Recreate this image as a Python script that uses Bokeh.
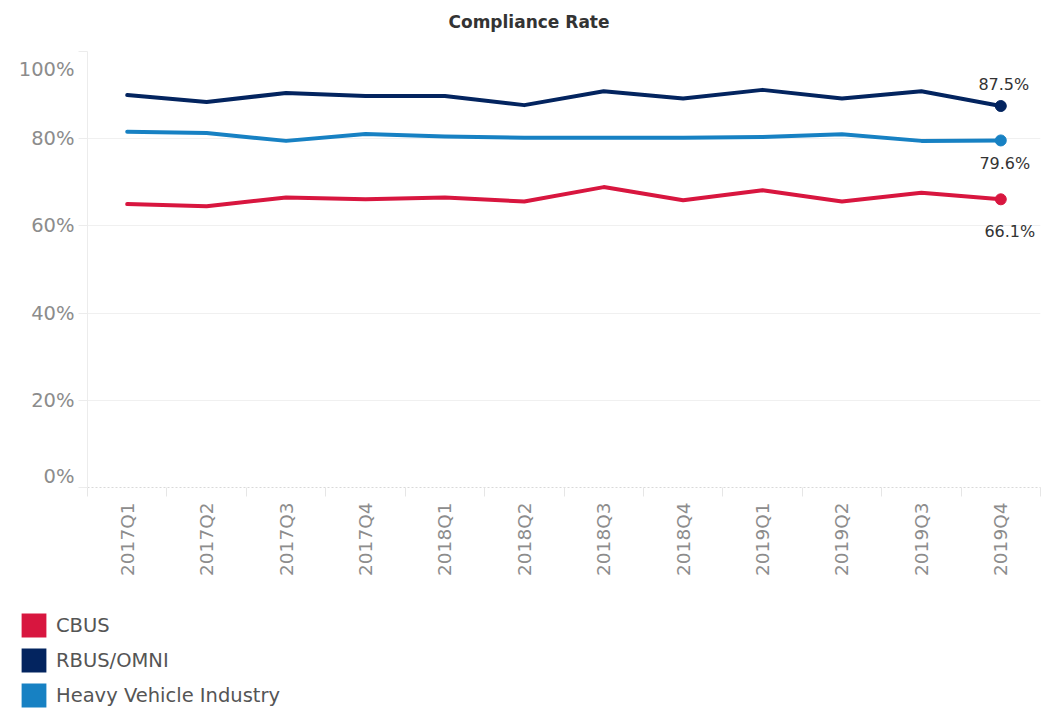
import numpy as np
from bokeh.plotting import figure
from bokeh.layouts import column
from bokeh.models import (ColumnDataSource, FixedTicker, Range1d, Legend, LegendItem, Title)
from bokeh.core.properties import value
from bokeh.embed import file_html
from bokeh.resources import INLINE

# ---------------- data ----------------
quarters = ["2017Q1", "2017Q2", "2017Q3", "2017Q4", "2018Q1", "2018Q2",
            "2018Q3", "2018Q4", "2019Q1", "2019Q2", "2019Q3", "2019Q4"]
series_names = ["CBUS", "RBUS/OMNI", "Heavy Vehicle Industry"]
cbus = [65.0, 64.5, 66.5, 66.1, 66.5, 65.6, 68.9, 65.9, 68.2, 65.6, 67.6, 66.1]
rbus = [90.0, 88.4, 90.5, 89.8, 89.8, 87.7, 90.9, 89.2, 91.2, 89.2, 90.9, 87.5]
hvi = [81.6, 81.3, 79.5, 81.1, 80.5, 80.2, 80.2, 80.2, 80.4, 81.0, 79.5, 79.6]
y_ticks = [0, 20, 40, 60, 80, 100]

# ---------------- styles ----------------
colors = ["#d8163f", "#03245f", "#1781c3"]
FONT = "DejaVu Sans"
AXIS_GRAY = "#8c8c8c"
W = 1049
H_MAIN, H_LEG = 598, 114
FRAME_TOP, FRAME_BOTTOM = 51, 487
PX_PER_UNIT = (FRAME_BOTTOM - FRAME_TOP) / 100.0
# Tableau keeps the first/last y tick labels inside the pane (pixels, + = downward)
END_LABEL_SHIFT_PX = {0: -11.5, 100: 17.5}

n = len(quarters)
centers = list(np.arange(n) + 0.5)
bounds = list(np.arange(n + 1).astype(float))

p = figure(width=W, height=H_MAIN, output_backend="svg", toolbar_location=None,
           x_range=Range1d(0, n), y_range=Range1d(0, 100),
           min_border_left=87, min_border_right=9, min_border_top=FRAME_TOP,
           min_border_bottom=H_MAIN - FRAME_BOTTOM)
p.outline_line_color = None
p.background_fill_color = "white"
p.border_fill_color = "white"

p.add_layout(Title(text="Compliance Rate", align="left", offset=361, standoff=22,
                   vertical_align="top", padding=dict(top=0, right=0, bottom=7, left=0),
                   text_font=FONT, text_font_size="17px", text_font_style="bold",
                   text_color="#333333"), "above")

# grid
p.xgrid.grid_line_color = None
p.ygrid.ticker = FixedTicker(ticks=[t for t in y_ticks if t > 0])
p.ygrid.grid_line_color = "#f0f0f0"
p.ygrid.grid_line_width = 1

# y axis: labels at tick values, first/last nudged inside the frame
label_pos = [t - END_LABEL_SHIFT_PX.get(t, 0) / PX_PER_UNIT for t in y_ticks]
ya = p.yaxis[0]
ya.ticker = FixedTicker(ticks=label_pos, minor_ticks=[float(t) for t in y_ticks])
ya.major_label_overrides = {lp: f"{t}%" for lp, t in zip(label_pos, y_ticks)}
ya.axis_line_color = "#ececec"
ya.major_tick_line_color = None
ya.major_tick_out = 0
ya.major_tick_in = 0
ya.minor_tick_line_color = "#ececec"
ya.minor_tick_out = 9
ya.minor_tick_in = 0
ya.major_label_standoff = 4
ya.major_label_text_font = FONT
ya.major_label_text_font_size = "19.5px"
ya.major_label_text_color = AXIS_GRAY

# x axis
xa = p.xaxis[0]
xa.ticker = FixedTicker(ticks=centers, minor_ticks=bounds)
xa.major_label_overrides = {c: q for c, q in zip(centers, quarters)}
xa.major_label_orientation = np.pi / 2
xa.major_tick_out = 0
xa.major_tick_in = 0
xa.major_tick_line_color = None
xa.minor_tick_out = 9
xa.minor_tick_in = 0
xa.minor_tick_line_color = "#e6e6e6"
xa.axis_line_color = "#d9d9d9"
xa.axis_line_dash = "2 2"
xa.major_label_standoff = 6
xa.major_label_text_font = FONT
xa.major_label_text_font_size = "18.5px"
xa.major_label_text_color = AXIS_GRAY

# lines
all_series = [cbus, rbus, hvi]
for vals, col in zip(all_series, colors):
    src = ColumnDataSource(dict(x=centers, y=vals))
    p.line("x", "y", source=src, line_color=col, line_width=4, line_join="round", line_cap="round")

# end points and labels
last = ColumnDataSource(dict(
    x=[centers[-1]] * 3,
    y=[s[-1] for s in all_series],
    c=colors,
    t=[f"{s[-1]:.1f}%" for s in all_series],
    xo=[9, 3, 4],
    yo=[32, -22, 23],
))
p.scatter("x", "y", source=last, size=11, fill_color="c", line_color="c", marker="circle")
p.text("x", "y", text="t", source=last, x_offset="xo", y_offset="yo",
       text_align="center", text_baseline="middle", text_font=value(FONT),
       text_font_size="16px", text_color="#333333")

# legend in its own strip below the chart (square swatches)
lf = figure(width=W, height=H_LEG, output_backend="svg", toolbar_location=None,
            x_range=Range1d(0, 1), y_range=Range1d(0, 1),
            x_axis_location=None, y_axis_location=None,
            min_border_left=0, min_border_right=0, min_border_top=0, min_border_bottom=0)
lf.frame_align = False
lf.outline_line_color = None
lf.xgrid.grid_line_color = None
lf.ygrid.grid_line_color = None
items = []
for name, col in zip(series_names, colors):
    # zero-area quad: only serves as the legend swatch
    r = lf.quad(left=[0], right=[0], top=[0], bottom=[0], fill_color=col, line_color=None)
    items.append(LegendItem(label=name, renderers=[r]))
legend = Legend(items=items, location=(18, 2), glyph_width=31, glyph_height=30,
                spacing=5, padding=0, margin=0, border_line_color=None,
                background_fill_alpha=0, label_text_font=FONT, label_text_font_size="19.5px",
                label_text_color="#555555", label_standoff=7, label_height=30)
lf.add_layout(legend, "center")

layout = column(p, lf, spacing=0)
open("out.html", "w").write(file_html(layout, INLINE))
